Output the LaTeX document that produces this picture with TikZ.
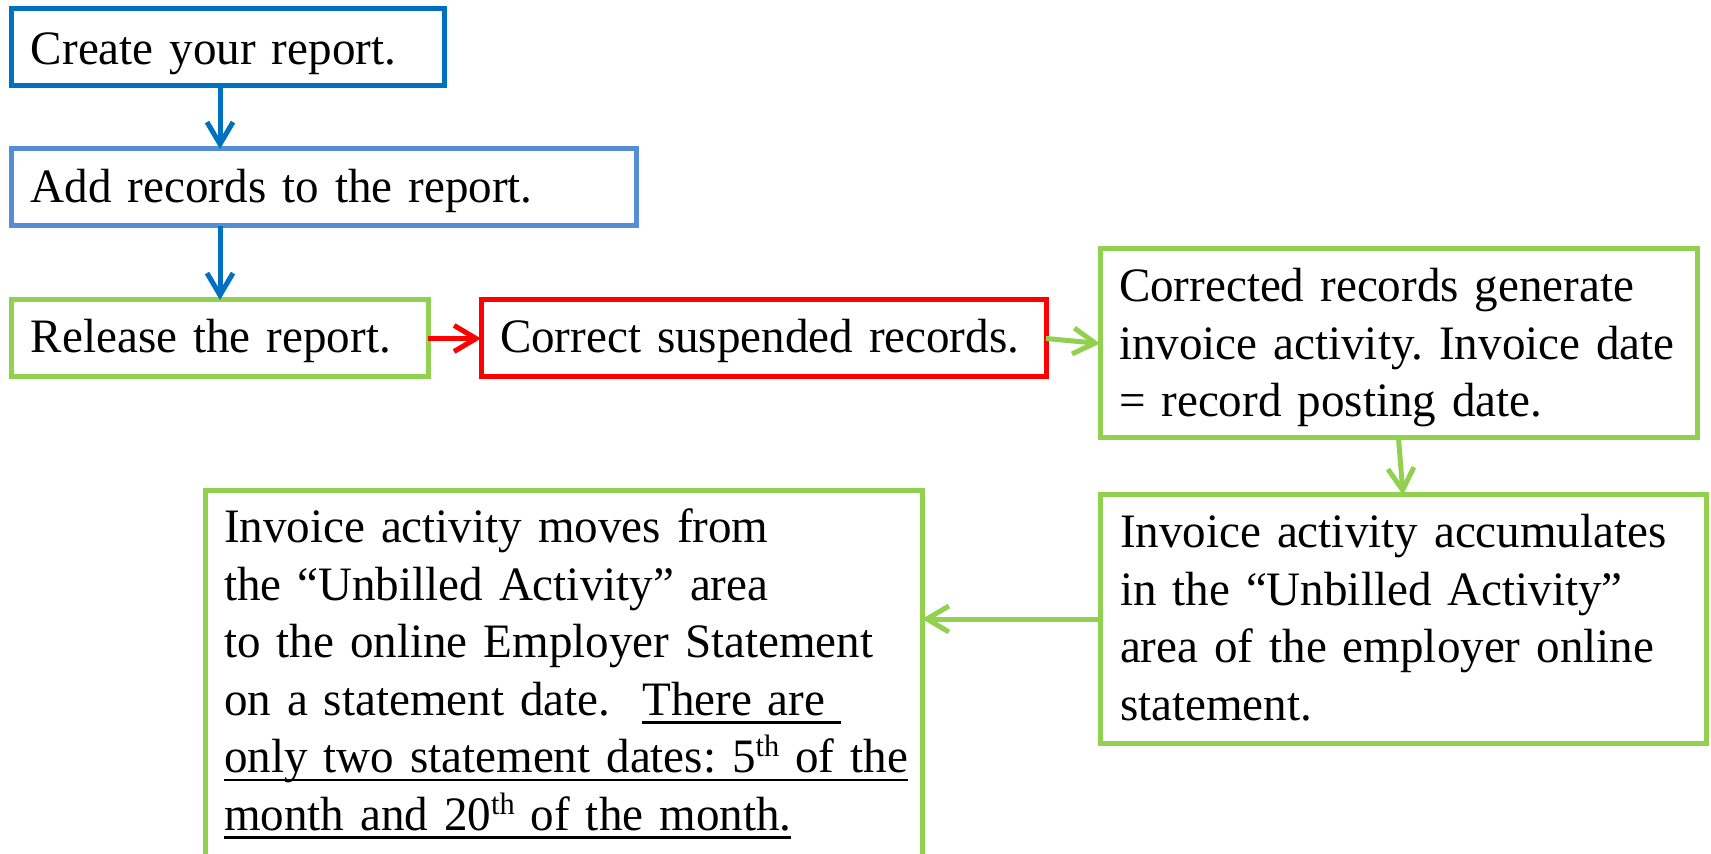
\documentclass[tikz,border=0pt]{standalone}
\usepackage{fontspec}
\setmainfont[FakeStretch=0.98]{Liberation Serif}
\usetikzlibrary{arrows.meta}
\definecolor{dblue}{HTML}{0070C0}
\definecolor{lblue}{HTML}{558ED5}
\definecolor{lgreen}{HTML}{92D050}
\definecolor{pred}{HTML}{FF0000}
\newsavebox\ulbox
\newcommand\myul[1]{\leavevmode\sbox\ulbox{#1}\rlap{\vrule height -2.8pt depth 4.1pt width \wd\ulbox}\usebox\ulbox}
\newcommand\supth{\raisebox{8pt}{\fontsize{15.5}{18}\selectfont th}}
\begin{document}
\frenchspacing
\begin{tikzpicture}[x=0.5pt,y=-0.5pt,
  box/.style={draw, rectangle, line width=2.5pt, inner sep=0pt, outer sep=0pt, anchor=north west},
  txt/.style={inner sep=0pt, outer sep=0pt, anchor=base west, align=left, text width=340pt, font=\fontsize{24}{28.75}\selectfont\frenchspacing},
  arr/.style={line width=2.5pt, -{Straight Barb[length=11pt,width=13pt]}}]
\clip (0,0) rectangle (1711,854);
\fill[white] (0,0) rectangle (1711,854);
% boxes
\node[box, draw=dblue, minimum width=216.5pt, minimum height=38.5pt] (b1) at (11,9) {};
\node[box, draw=lblue, minimum width=312.5pt, minimum height=38.5pt] (b2) at (11,149) {};
\node[box, draw=lgreen, minimum width=208.5pt, minimum height=38.5pt] (b3) at (11,300) {};
\node[box, draw=pred, minimum width=282.5pt, minimum height=38.5pt] (red) at (481,300) {};
\node[box, draw=lgreen, minimum width=298.5pt, minimum height=94.5pt] (C) at (1100,249) {};
\node[box, draw=lgreen, minimum width=303pt, minimum height=124pt] (D) at (1100,495) {};
\node[box, draw=lgreen, minimum width=358.5pt, minimum height=200pt] (E) at (205,491) {};
% texts
\node[txt] (t1) at (31,65) {Create your report.};
\node[txt] (t2) at (31,203) {Add records to the report.};
\node[txt] (t3) at (31,353) {Release the report.};
\node[txt] (t4) at (500,353) {Correct suspended records.};
\node[txt] (tC) at (1119,302) {Corrected records generate\\invoice activity. Invoice date\\= record posting date.};
\node[txt] (tD) at (1120,548) {Invoice activity accumulates\\in the “Unbilled Activity”\\area of the employer online\\statement.};
\node[txt] (tE) at (224,543) {Invoice activity moves from\\the “Unbilled Activity” area\\to the online Employer Statement\\on a statement date.\ \ \myul{There are\ }\\\myul{only two statement dates: 5\supth{} of the}\\\myul{month and 20\supth{} of the month.}};
% connectors
\coordinate (ax) at (220,0);
\draw[arr, dblue] (b1.south -| ax) -- (b2.north -| ax);
\draw[arr, dblue] (b2.south -| ax) -- (b3.north -| ax);
\draw[arr, pred] (b3.east) -- (red.west);
\draw[arr, lgreen] (red.east) -- (C.west);
\draw[arr, lgreen] (C.south) -- (D.north);
\draw[arr, lgreen] (D.west) -- (D.west -| E.east);
\end{tikzpicture}
\end{document}
